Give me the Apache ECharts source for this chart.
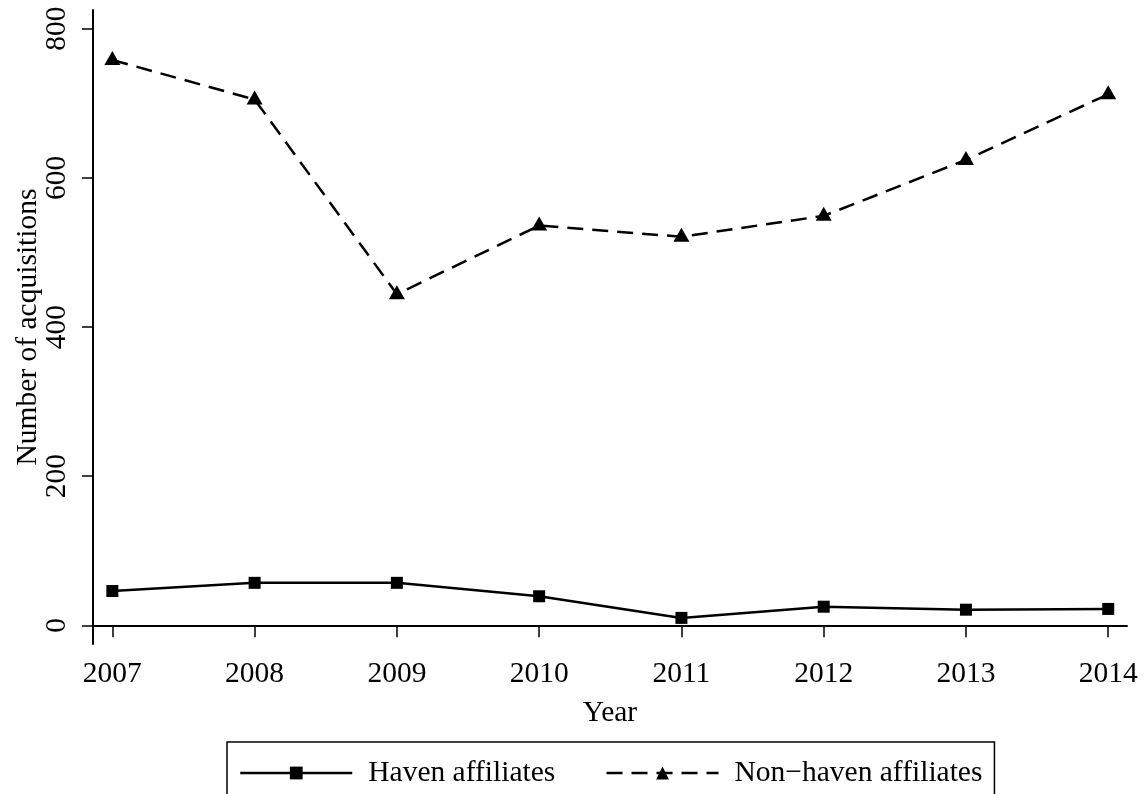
<!DOCTYPE html>
<html>
<head>
<meta charset="utf-8">
<script src="https://cdn.jsdelivr.net/npm/echarts@6/dist/echarts.min.js"></script>
<style>
  html, body { margin: 0; padding: 0; background: #ffffff; }
  #chart { width: 1146px; height: 794px; }
</style>
</head>
<body>
<div id="chart"></div>
<script>
// Acquisitions per year, split by affiliate type
const years = [2007, 2008, 2009, 2010, 2011, 2012, 2013, 2014];
const havenAffiliates = [46, 57, 57, 39, 10, 25, 21, 22];
const nonHavenAffiliates = [758, 705, 444, 536, 521, 549, 624, 712];
const yTicks = [0, 200, 400, 600, 800];

const FONT = '"Liberation Serif", "Times New Roman", serif';
const FS = 29.5;

const pairs = (vals) => years.map((y, i) => [y, vals[i]]);

const chart = echarts.init(document.getElementById('chart'), null, { renderer: 'canvas' });

chart.setOption({
  backgroundColor: '#ffffff',
  animation: false,
  textStyle: { fontFamily: FONT, color: '#000' },
  grid: { left: 93, right: 19, top: 10, bottom: 150, containLabel: false, outerBoundsMode: 'none' },
  xAxis: {
    type: 'value',
    min: 2006.864,
    max: 2014.132,
    name: 'Year',
    nameLocation: 'middle',
    nameGap: 54,
    nameMoveOverlap: false,
    nameTextStyle: { fontFamily: FONT, fontSize: FS, color: '#000' },
    axisLine: { show: true, lineStyle: { color: '#000', width: 2 } },
    axisTick: { show: true, length: 12, lineStyle: { color: '#000', width: 1.5 }, customValues: years },
    axisLabel: {
      fontFamily: FONT, fontSize: FS, color: '#000', margin: 15,
      customValues: years,
      formatter: (v) => String(v)
    },
    splitLine: { show: false }
  },
  yAxis: {
    type: 'value',
    min: -25,
    max: 825,
    name: 'Number of acquisitions',
    nameLocation: 'middle',
    nameGap: 50,
    nameMoveOverlap: false,
    nameTextStyle: { fontFamily: FONT, fontSize: FS, color: '#000' },
    axisLine: { show: true, lineStyle: { color: '#000', width: 2 } },
    axisTick: { show: true, length: 11, lineStyle: { color: '#000', width: 1.5 }, customValues: yTicks },
    axisLabel: {
      fontFamily: FONT, fontSize: FS, color: '#000', margin: 21, rotate: 90,
      customValues: yTicks,
      formatter: (v) => String(v)
    },
    splitLine: { show: false }
  },
  legend: {
    left: 227,
    top: 742,
    orient: 'horizontal',
    borderColor: '#000',
    borderWidth: 1.5,
    padding: [16, 12, 16, 12],
    itemWidth: 112,
    itemHeight: 16,
    itemGap: 50,
    textStyle: { fontFamily: FONT, fontSize: FS, color: '#000', padding: [0, 0, 0, 11] },
    lineStyle: { width: 2.5 },
    data: ['Haven affiliates', 'Non\u2212haven affiliates']
  },
  series: [
    {
      name: 'Haven affiliates',
      type: 'line',
      data: pairs(havenAffiliates),
      symbol: 'rect',
      symbolSize: 12,
      itemStyle: { color: '#000' },
      lineStyle: { color: '#000', width: 2.5, type: 'solid' },
      z: 3
    },
    {
      name: 'Non\u2212haven affiliates',
      type: 'line',
      data: pairs(nonHavenAffiliates),
      symbol: 'triangle',
      symbolSize: [16, 14],
      symbolOffset: [0, -2],
      itemStyle: { color: '#000' },
      lineStyle: { color: '#000', width: 2.5, type: [16, 9] },
      z: 3
    }
  ]
});
</script>
</body>
</html>
